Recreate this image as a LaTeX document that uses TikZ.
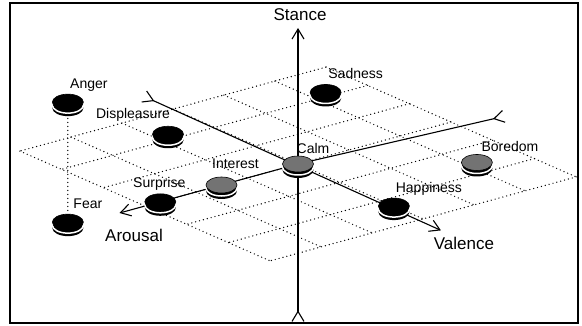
\documentclass[tikz,border=0pt]{standalone}
\usepackage{fontspec}
\setmainfont{Liberation Sans}
\usepackage{tikz}
\usetikzlibrary{arrows.meta,shapes.geometric}

\begin{document}
\begin{tikzpicture}[
        x=1pt,
        y=-1pt,
        >={Straight Barb[length=10pt,width=12pt]},
        line cap=round,
        semithick
    ]
    \tikzstyle{disc}=[ellipse,draw=black,fill=black,
        minimum width=31pt,minimum height=16pt,inner sep=0pt,
        preaction={fill=black,transform canvas={yshift=-6pt}},
        preaction={draw=white,line width=1.5pt,transform canvas={yshift=-3pt}}]
    \tikzstyle{grey disc}=[disc,fill=black!55]
    \tikzstyle{tag}=[inner sep=0pt,font=\fontsize{14}{16}\selectfont]
    \tikzstyle{axis label}=[inner sep=0pt,font=\fontsize{17}{20}\selectfont]
    \tikzstyle{axis}=[line width=1.1pt]
    \tikzstyle{grid}=[line width=1.4pt,dash pattern=on 0pt off 4pt]

    \useasboundingbox (0,0) rectangle (582,326);
    \draw[line width=1.4pt] (10,3) rectangle (578,323);

    % x = arousal, y = stance, z = valence
    \begin{scope}[shift={(298,164)},
                  x={(-51pt,-14pt)},
                  y={(0pt,10pt)},
                  z={(41.7pt,-18.3pt)}]

        \coordinate (O)    at (0,0,0);
        \coordinate (sTop) at (0,13.6,0);
        \coordinate (sBot) at (0,-15.8,0);
        \coordinate (aPos) at (3.5,0,0);
        \coordinate (aNeg) at (-3.8,0,0.3);
        \coordinate (vPos) at (0.1,0,3.55);
        \coordinate (vNeg) at (0,0,-3.7);

        % the plane stance = 0
        \foreach \i in {-3,...,3} {
            \draw[grid] (\i,0,-3) -- (\i,0,3);
            \draw[grid] (-3,0,\i) -- (3,0,\i);
        }

        \draw[axis,>->] (sBot) -- (sTop);
        \draw[axis,>->] (vNeg) -- (vPos);
        \draw[axis,>->] (aNeg) -- (O) -- (aPos);

        \node[disc]      (anger)       at (3,7,-1.85)    {};
        \node[disc]      (fear)        at (3,-5,-1.85)   {};
        \node[disc]      (displeasure) at (0.75,0,-2.2)  {};
        \node[disc]      (sadness)     at (-2.3,0,-2.15) {};
        \node[grey disc] (calm)        at (0,0,0)        {};
        \node[grey disc] (boredom)     at (-2.2,0,1.6)   {};
        \node[disc]      (happiness)   at (0,0,2.3)      {};
        \node[grey disc] (interest)    at (1.5,0,0)      {};
        \node[disc]      (surprise)    at (2.7,0,0)      {};

        \draw[grid] (anger) -- (fear);

        \node[tag] (angerTxt)       at ([shift={(21pt,17pt)}]anger.center)       {Anger};
        \node[tag] (fearTxt)        at ([shift={(20pt,18pt)}]fear.center)        {Fear};
        \node[tag] (displeasureTxt) at ([shift={(-35pt,19pt)}]displeasure.center) {Displeasure};
        \node[tag] (sadnessTxt)     at ([shift={(30pt,19pt)}]sadness.center)     {Sadness};
        \node[tag] (calmTxt)        at ([shift={(15pt,16pt)}]calm.center)        {Calm};
        \node[tag] (boredomTxt)     at ([shift={(33pt,16pt)}]boredom.center)     {Boredom};
        \node[tag] (happinessTxt)   at ([shift={(35pt,17pt)}]happiness.center)   {Happiness};
        \node[tag] (interestTxt)    at ([shift={(14pt,21pt)}]interest.center)    {Interest};
        \node[tag] (surpriseTxt)    at ([shift={(-1pt,18pt)}]surprise.center)    {Surprise};

        \node[axis label] (stanceTxt)  at ([shift={(2pt,13pt)}]sTop)     {Stance};
        \node[axis label] (arousalTxt) at ([shift={(14.5pt,-22pt)}]aPos) {Arousal};
        \node[axis label] (valenceTxt) at ([shift={(23pt,-13pt)}]vPos)   {Valence};
    \end{scope}
\end{tikzpicture}
\end{document}
